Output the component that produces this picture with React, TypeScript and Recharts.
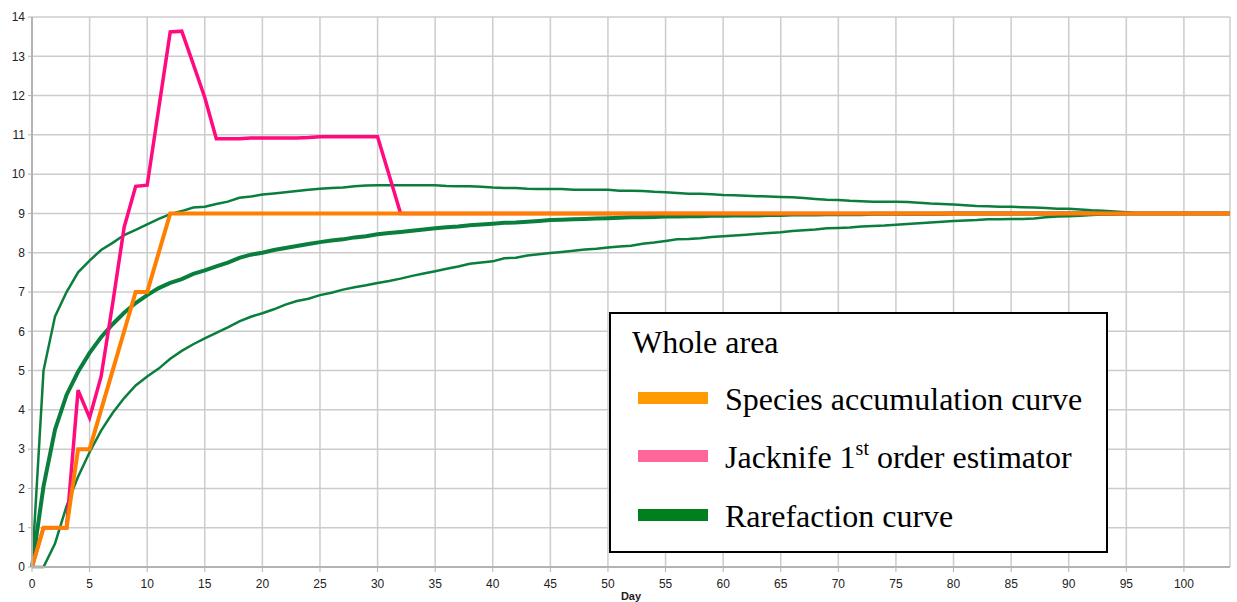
import { LineChart, Line, XAxis, YAxis, CartesianGrid } from "recharts";

// sampling day (x axis)
const days = [
  0, 1, 2, 3, 4, 5, 6, 7, 8, 9,
  10, 11, 12, 13, 14, 15, 16, 17, 18, 19,
  20, 21, 22, 23, 24, 25, 26, 27, 28, 29,
  30, 31, 32, 33, 34, 35, 36, 37, 38, 39,
  40, 41, 42, 43, 44, 45, 46, 47, 48, 49,
  50, 51, 52, 53, 54, 55, 56, 57, 58, 59,
  60, 61, 62, 63, 64, 65, 66, 67, 68, 69,
  70, 71, 72, 73, 74, 75, 76, 77, 78, 79,
  80, 81, 82, 83, 84, 85, 86, 87, 88, 89,
  90, 91, 92, 93, 94, 95, 96, 97, 98, 99,
  100, 101, 102, 103, 104,
];

const speciesAccum = [
  0, 1, 1, 1, 3, 3, 4, 5, 6, 7,
  7, 8, 9, 9, 9, 9, 9, 9, 9, 9,
  9, 9, 9, 9, 9, 9, 9, 9, 9, 9,
  9, 9, 9, 9, 9, 9, 9, 9, 9, 9,
  9, 9, 9, 9, 9, 9, 9, 9, 9, 9,
  9, 9, 9, 9, 9, 9, 9, 9, 9, 9,
  9, 9, 9, 9, 9, 9, 9, 9, 9, 9,
  9, 9, 9, 9, 9, 9, 9, 9, 9, 9,
  9, 9, 9, 9, 9, 9, 9, 9, 9, 9,
  9, 9, 9, 9, 9, 9, 9, 9, 9, 9,
  9, 9, 9, 9, 9,
];

const jackknife1 = [
  0, 1, 1, 1, 4.5, 3.8, 4.85, 6.7, 8.65, 9.69,
  9.72, 11.67, 13.62, 13.64, 12.8, 11.95, 10.9, 10.9, 10.9, 10.92,
  10.92, 10.92, 10.92, 10.92, 10.93, 10.95, 10.95, 10.95, 10.95, 10.95,
  10.95, 9.98, 9, 9, 9, 9, 9, 9, 9, 9,
  9, 9, 9, 9, 9, 9, 9, 9, 9, 9,
  9, 9, 9, 9, 9, 9, 9, 9, 9, 9,
  9, 9, 9, 9, 9, 9, 9, 9, 9, 9,
  9, 9, 9, 9, 9, 9, 9, 9, 9, 9,
  9, 9, 9, 9, 9, 9, 9, 9, 9, 9,
  9, 9, 9, 9, 9, 9, 9, 9, 9, 9,
  9, 9, 9, 9, 9,
];

const rarefactionUpper = [
  0, 5.0, 6.38, 7.0, 7.5, 7.8, 8.07, 8.25, 8.45, 8.58,
  8.72, 8.86, 8.98, 9.06, 9.15, 9.17, 9.24, 9.3, 9.4, 9.43,
  9.48, 9.51, 9.54, 9.57, 9.6, 9.63, 9.65, 9.66, 9.69, 9.71,
  9.72, 9.72, 9.72, 9.72, 9.72, 9.72, 9.7, 9.69, 9.69, 9.68,
  9.66, 9.65, 9.65, 9.63, 9.62, 9.62, 9.62, 9.6, 9.6, 9.6,
  9.6, 9.58, 9.58, 9.57, 9.55, 9.54, 9.52, 9.5, 9.5, 9.49,
  9.47, 9.46, 9.45, 9.44, 9.43, 9.42, 9.41, 9.39, 9.37, 9.35,
  9.34, 9.32, 9.31, 9.3, 9.3, 9.3, 9.29, 9.27, 9.25, 9.24,
  9.23, 9.21, 9.19, 9.18, 9.17, 9.17, 9.16, 9.15, 9.14, 9.12,
  9.12, 9.1, 9.08, 9.07, 9.05, 9.03, 9, 9, 9, 9,
  9, 9, 9, 9, 9,
];

const rarefactionMean = [
  0, 2.05, 3.5, 4.38, 4.97, 5.45, 5.85, 6.18, 6.47, 6.72,
  6.92, 7.1, 7.23, 7.33, 7.46, 7.55, 7.65, 7.75, 7.87, 7.95,
  8.0, 8.07, 8.12, 8.17, 8.22, 8.27, 8.31, 8.34, 8.39, 8.42,
  8.47, 8.5, 8.53, 8.56, 8.59, 8.62, 8.65, 8.67, 8.7, 8.72,
  8.74, 8.76, 8.77, 8.79, 8.81, 8.83, 8.84, 8.85, 8.86, 8.87,
  8.88, 8.89, 8.9, 8.9, 8.91, 8.92, 8.92, 8.93, 8.93, 8.94,
  8.94, 8.95, 8.95, 8.95, 8.96, 8.96, 8.97, 8.97, 8.97, 8.98,
  8.98, 8.98, 8.98, 8.99, 8.99, 8.99, 8.99, 8.99, 8.99, 8.99,
  9, 9, 9, 9, 9, 9, 9, 9, 9, 9,
  9, 9, 9, 9, 9, 9, 9, 9, 9, 9,
  9, 9, 9, 9, 9,
];

const rarefactionLower = [
  0, 0, 0.6, 1.55, 2.3, 2.92, 3.47, 3.92, 4.3, 4.62,
  4.85, 5.05, 5.3, 5.5, 5.67, 5.82, 5.96, 6.1, 6.25, 6.37,
  6.46, 6.56, 6.68, 6.77, 6.83, 6.92, 6.98, 7.06, 7.12, 7.17,
  7.23, 7.28, 7.34, 7.41, 7.47, 7.53, 7.59, 7.65, 7.72, 7.75,
  7.78, 7.86, 7.87, 7.93, 7.96, 7.99, 8.02, 8.05, 8.08, 8.1,
  8.13, 8.16, 8.18, 8.23, 8.26, 8.3, 8.34, 8.35, 8.37, 8.4,
  8.42, 8.44, 8.46, 8.48, 8.5, 8.52, 8.55, 8.57, 8.59, 8.62,
  8.63, 8.64, 8.67, 8.68, 8.69, 8.71, 8.73, 8.75, 8.77, 8.79,
  8.81, 8.82, 8.83, 8.85, 8.85, 8.86, 8.86, 8.87, 8.9, 8.92,
  8.93, 8.94, 8.96, 8.97, 8.98, 8.99, 9, 9, 9, 9,
  9, 9, 9, 9, 9,
];

const xTicks = [0, 5, 10, 15, 20, 25, 30, 35, 40, 45, 50, 55, 60, 65, 70, 75, 80, 85, 90, 95, 100];
const yTicks = [0, 1, 2, 3, 4, 5, 6, 7, 8, 9, 10, 11, 12, 13, 14];

const data = days.map((d, i) => ({
  day: d,
  species: speciesAccum[i],
  jack: jackknife1[i],
  upper: rarefactionUpper[i],
  mean: rarefactionMean[i],
  lower: rarefactionLower[i],
}));

const GREEN = "#0a7f3d";
const sans = "Liberation Sans, Arial, sans-serif";
const tickStyle = { fill: "#222", fontSize: 12, fontFamily: sans };
const serif = "Liberation Serif, 'Times New Roman', serif";

function LegendBox() {
  const row = (top: number, color: string, label: React.ReactNode) => (
    <>
      <div style={{ position: "absolute", left: 27, top: top + 8, width: 70, height: 12, background: color }} />
      <div style={{ position: "absolute", left: 114, top, fontSize: 32, lineHeight: "31px", whiteSpace: "nowrap" }}>
        {label}
      </div>
    </>
  );
  return (
    <div
      style={{
        position: "absolute",
        left: 609,
        top: 312,
        width: 499,
        height: 241,
        boxSizing: "border-box",
        border: "2px solid #000",
        background: "#fff",
        fontFamily: serif,
        color: "#000",
      }}
    >
      <div style={{ position: "absolute", left: 21, top: 13, fontSize: 32, lineHeight: "31px" }}>Whole area</div>
      {row(70, "#ff9a00", "Species accumulation curve")}
      {row(128, "#ff6699", (
        <>
          Jacknife 1
          <span style={{ fontSize: 20, position: "relative", top: -13, lineHeight: 0 }}>st</span> order estimator
        </>
      ))}
      {row(187, "#007f1f", "Rarefaction curve")}
    </div>
  );
}

export default function App() {
  return (
    <div style={{ position: "absolute", left: 0, top: 0, width: 1237, height: 602, background: "#fff" }}>
      <LineChart width={1237} height={602} data={data} margin={{ top: 17, right: 7, bottom: 0, left: 0 }}>
        <CartesianGrid stroke="#cccccc" strokeWidth={1.5} />
        <XAxis
          dataKey="day"
          type="number"
          domain={[0, 104]}
          ticks={xTicks}
          height={35}
          tick={tickStyle}
          tickSize={5}
          tickMargin={7}
          axisLine={{ stroke: "#b3b3b3", strokeWidth: 2 }}
          tickLine={{ stroke: "#b3b3b3" }}
          label={{ value: "Day", position: "insideBottom", offset: 2, fill: "#222", fontSize: 11, fontWeight: "bold", fontFamily: sans }}
        />
        <YAxis
          type="number"
          domain={[0, 14]}
          ticks={yTicks}
          width={32}
          tick={tickStyle}
          tickSize={4}
          tickMargin={3}
          axisLine={{ stroke: "#b3b3b3", strokeWidth: 2 }}
          tickLine={{ stroke: "#b3b3b3" }}
        />
        <Line type="linear" dataKey="lower" stroke={GREEN} strokeWidth={2.5} dot={false} isAnimationActive={false} />
        <Line type="linear" dataKey="upper" stroke={GREEN} strokeWidth={2.5} dot={false} isAnimationActive={false} />
        <Line type="linear" dataKey="mean" stroke={GREEN} strokeWidth={4} dot={false} isAnimationActive={false} />
        <Line type="linear" dataKey="jack" stroke="#ff0a80" strokeWidth={3.5} dot={false} isAnimationActive={false} />
        <Line type="linear" dataKey="species" stroke="#ff8000" strokeWidth={4} dot={false} isAnimationActive={false} />
      </LineChart>
      <LegendBox />
    </div>
  );
}
